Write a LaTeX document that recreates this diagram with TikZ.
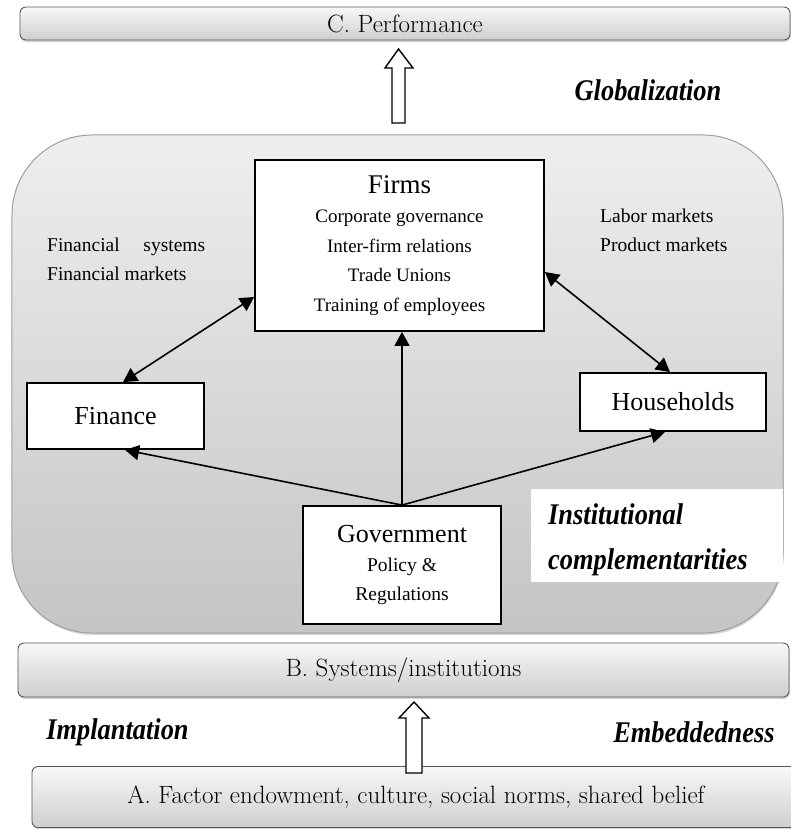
\documentclass[tikz,border=0pt]{standalone}
\usepackage{fontspec}
\usepackage{graphicx}
\usetikzlibrary{arrows.meta,shadows}
\newfontfamily\tnr{Liberation Serif}
\tikzset{
  bar/.style={draw=gray!70!black, line width=0.9bp, rounded corners=6bp,
    top color=gray!6, bottom color=gray!38,
    drop shadow={shadow xshift=0.8bp, shadow yshift=-2bp, opacity=0.35},
    font=\fontsize{25bp}{30bp}\selectfont, inner sep=0pt},
  panel/.style={draw=gray!75, line width=1bp, rounded corners=80bp,
    top color=gray!13, bottom color=gray!46,
    drop shadow={shadow xshift=0.8bp, shadow yshift=-2bp, opacity=0.3}},
  box/.style={draw=black, line width=1.8bp, fill=white, inner sep=0pt},
  lbl/.style={font=\tnr\fontsize{19.5bp}{29bp}\selectfont, inner sep=0pt},
  big/.style={font=\tnr\bfseries\itshape\fontsize{30bp}{45bp}\selectfont, inner sep=0pt},
  conn/.style={line width=1.6bp, -{Triangle[length=14bp,width=15bp]}},
  bconn/.style={line width=1.6bp, {Triangle[length=14bp,width=15bp]}-{Triangle[length=14bp,width=15bp]}},
  blockarrow/.style={draw=black, fill=white, line width=1.4bp, line join=miter}
}
\begin{document}
\begin{tikzpicture}[x=1bp,y=-1bp]
\useasboundingbox (0,0) rectangle (791,829);
% bars
\node[bar, minimum width=770bp, minimum height=33bp] (C) at (405,23.5) {C. Performance};
\node[panel, minimum width=771bp, minimum height=498bp] (panel) at (397.5,384) {};
\node[bar, minimum width=771bp, minimum height=54bp] (B) at (403.5,670) {B. Systems/institutions};
\node[bar, minimum width=768bp, minimum height=61bp] (A) at (416,797) {A. Factor endowment, culture, social norms, shared belief};
% block arrows
\draw[blockarrow] (392,123) -- (392,68) -- (385,68) -- (398.5,49) -- (413,68) -- (405,68) -- (405,123) -- cycle;
\draw[blockarrow] (406,773) -- (406,718) -- (399,718) -- (414,702) -- (429,718) -- (422,718) -- (422,773) -- cycle;
% labels
\node[big] (glob) at (648,90) {\scalebox{0.88}[1]{Globalization}};
\node[big] (impl) at (117.5,732) {\scalebox{0.88}[1]{Implantation}};
\node[big] (embd) at (694,732) {\scalebox{0.88}[1]{Embeddedness}};
\node[fill=white, minimum width=252bp, minimum height=93bp, inner sep=0pt] (icbg) at (657,535.5) {};
\node[big, anchor=west, align=left] (ic) at (548,539.5) {\scalebox{0.88}[1]{Institutional}\\\scalebox{0.88}[1]{complementarities}};
% boxes
\node[box, minimum width=289bp, minimum height=171bp, align=center,
  font=\tnr\fontsize{19bp}{29.5bp}\selectfont] (firms) at (399.5,245.5)
  {{\fontsize{27bp}{30bp}\selectfont Firms}\\ Corporate governance\\ Inter-firm relations\\ Trade Unions\\ Training of employees};
\node[box, minimum width=177bp, minimum height=66bp, font=\tnr\fontsize{26bp}{30bp}\selectfont] (fin) at (115.5,416) {Finance};
\node[box, minimum width=186bp, minimum height=58bp, font=\tnr\fontsize{26bp}{30bp}\selectfont] (hh) at (673,402) {Households};
\node[box, minimum width=198bp, minimum height=118bp, align=center,
  font=\tnr\fontsize{19.5bp}{29bp}\selectfont] (gov) at (402,565)
  {{\fontsize{26bp}{30bp}\selectfont Government}\\ Policy \&\\ Regulations};
% side labels
\node[lbl, anchor=west, align=left] (finl) at (47,259.5) {\hbox to 158bp{Financial\hfill systems}\\Financial markets};
\node[lbl, anchor=west, align=left] (labl) at (600,230) {Labor markets\\Product markets};
% connectors
\draw[bconn] ([xshift=7.5bp]fin.north) -- ([yshift=-51.5bp]firms.west);
\draw[bconn] ([yshift=-26.5bp]firms.east) -- ([xshift=-3bp]hh.north);
\draw[conn] (gov.north) -- ([xshift=9.5bp]fin.south);
\draw[conn] (gov.north) -- (gov.north |- firms.south);
\draw[conn] (gov.north) -- ([xshift=-8bp]hh.south);
\end{tikzpicture}
\end{document}
